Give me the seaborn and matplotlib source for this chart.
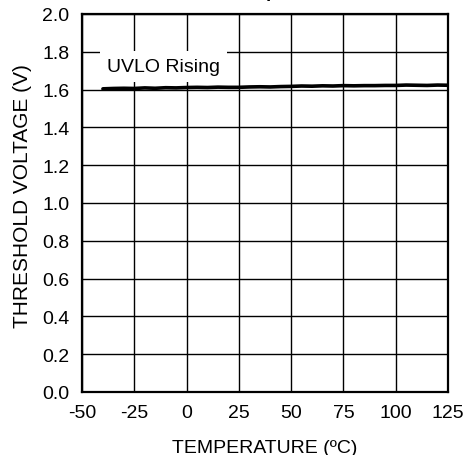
import numpy as np
import pandas as pd
import matplotlib
matplotlib.use("Agg")
import matplotlib.pyplot as plt
import seaborn as sns

# UVLO rising threshold vs temperature
temps = [-40, -35, -30, -25, -20, -15, -10, -5, 0, 5, 10, 15, 20, 25, 30, 35,
         40, 45, 50, 55, 60, 65, 70, 75, 80, 85, 90, 95, 100, 105, 110, 115, 120, 125]
uvlo_rising = [1.604, 1.606, 1.607, 1.606, 1.609, 1.607, 1.610, 1.609, 1.611, 1.612,
               1.611, 1.613, 1.612, 1.612, 1.614, 1.615, 1.614, 1.616, 1.617, 1.619,
               1.618, 1.620, 1.619, 1.621, 1.620, 1.621, 1.621, 1.622, 1.622, 1.624,
               1.623, 1.622, 1.624, 1.623]
x_ticks = [-50, -25, 0, 25, 50, 75, 100, 125]
y_ticks = [0.0, 0.2, 0.4, 0.6, 0.8, 1.0, 1.2, 1.4, 1.6, 1.8, 2.0]

df = pd.DataFrame({"temp": temps, "vth": uvlo_rising})

sns.set_style("white")
plt.rcParams["font.family"] = ["Liberation Sans", "DejaVu Sans"]
plt.rcParams["axes.unicode_minus"] = False
plt.rcParams["text.color"] = "black"
plt.rcParams["axes.labelcolor"] = "black"

fig = plt.figure(figsize=(4.66, 4.56), dpi=100)
ax = fig.add_axes([82 / 466, 1 - 393 / 456, 366 / 466, 378 / 456])

sns.lineplot(data=df, x="temp", y="vth", color="black", linewidth=2.6, ax=ax)

ax.set_xlim(-50, 125)
ax.set_ylim(0, 2.0)
ax.set_xticks(x_ticks)
ax.set_xticklabels([str(v) for v in x_ticks])
ax.set_yticks(y_ticks)
ax.set_yticklabels([f"{v:.1f}" for v in y_ticks])
ax.grid(True, color="black", linewidth=1.0)
ax.set_axisbelow(True)
for s in ax.spines.values():
    s.set_color("black")
    s.set_linewidth(1.6)
ax.tick_params(length=0, labelsize=14, pad=9, colors="black")
ax.set_xlabel("TEMPERATURE (ºC)", fontsize=14)
ax.xaxis.set_label_coords(0.5, -0.125)
ax.set_ylabel("THRESHOLD VOLTAGE (V)", fontsize=15)
ax.yaxis.set_label_coords(-0.137, 0.52)

ax.text(-10.8, 1.70, "UVLO Rising", fontsize=14, ha="center", va="baseline",
        bbox=dict(facecolor="white", edgecolor="none", pad=5), zorder=5)

# title cut off at the top edge of the image
fig.text(0.42, 1.006, "UVLO Threshold vs. Temperature", ha="center", va="baseline",
         fontsize=13, fontweight="bold")

fig.savefig("out.png", dpi=100)
